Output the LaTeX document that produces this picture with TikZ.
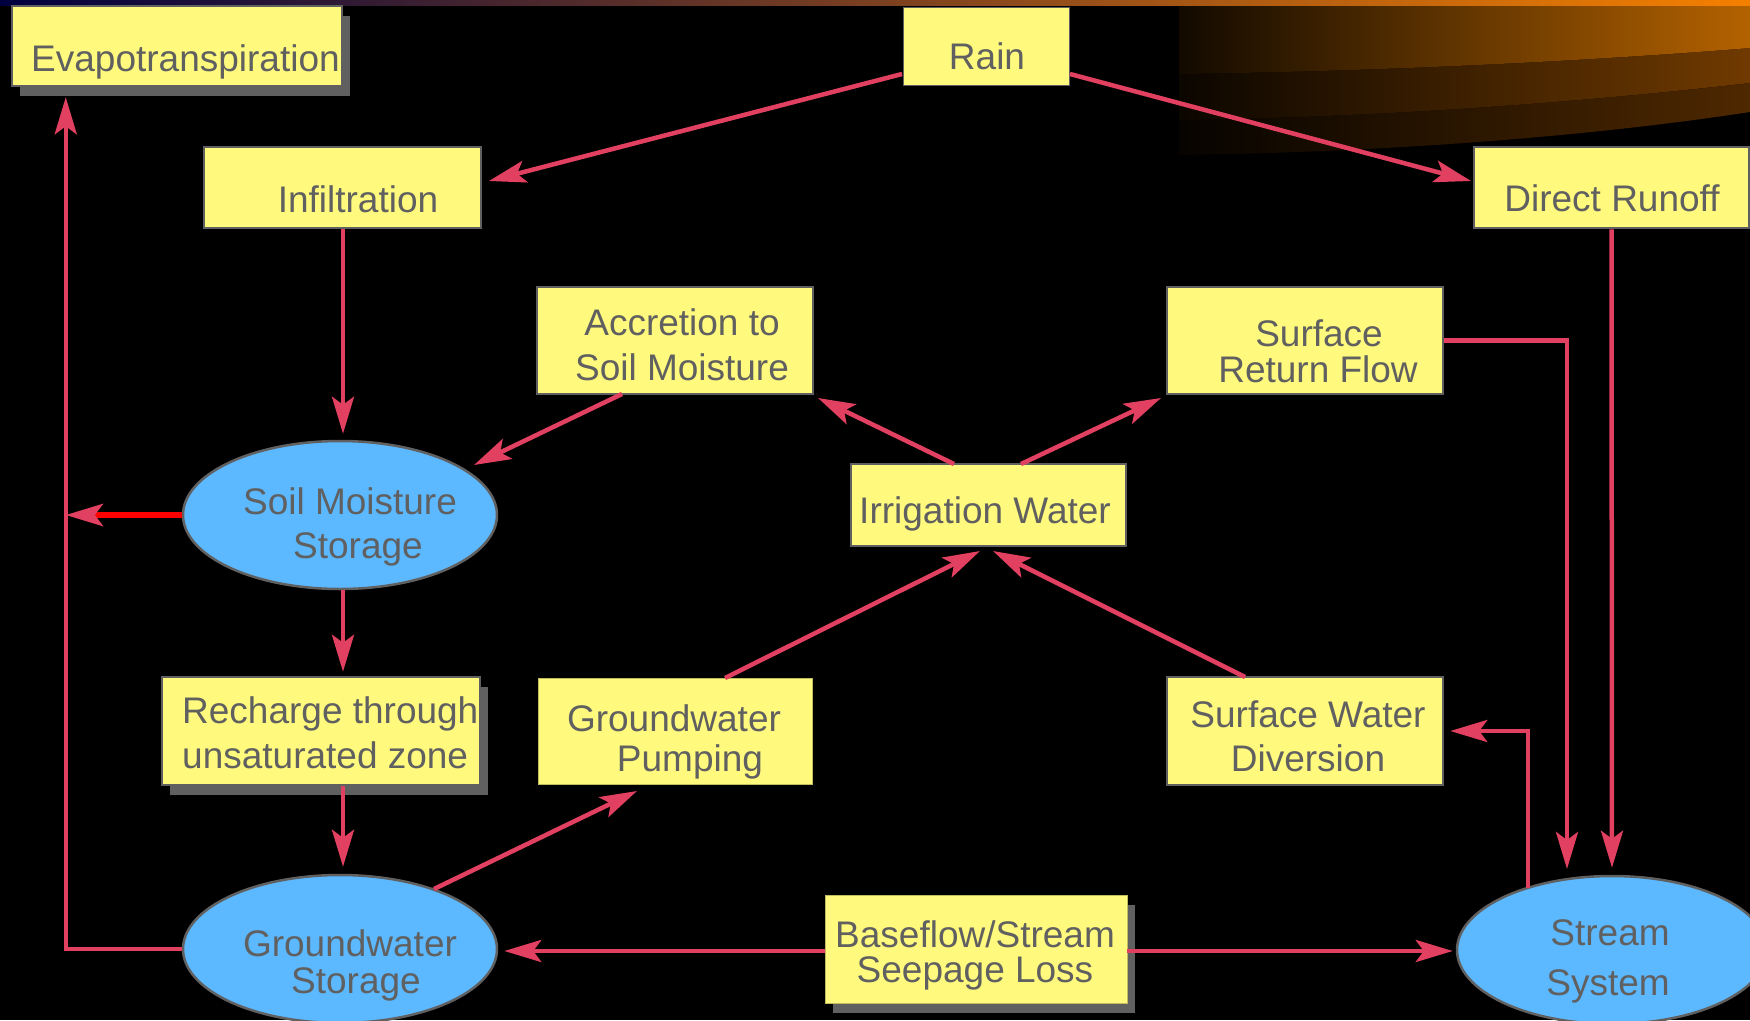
\documentclass[tikz,border=0pt]{standalone}
\usepackage{fontspec}
\setmainfont{Liberation Sans}
\usetikzlibrary{arrows.meta,shapes.geometric,calc,shadows}
\definecolor{boxyellow}{RGB}{255,250,125}
\definecolor{ellblue}{RGB}{92,184,255}
\definecolor{txtgray}{RGB}{96,96,96}
\definecolor{conpink}{RGB}{226,64,96}
\definecolor{stripL}{RGB}{0,0,64}
\definecolor{stripM}{RGB}{90,0,72}
\definecolor{stripR}{RGB}{245,128,0}
\definecolor{swooshA}{RGB}{180,98,0}
\definecolor{swooshB}{RGB}{112,58,0}
\definecolor{swooshC}{RGB}{78,40,0}
\begin{document}
\begin{tikzpicture}[x=1pt,y=-1pt,
  box/.style={rectangle, fill=boxyellow, draw=txtgray, line width=2.5pt, inner sep=0pt},
  flatbox/.style={rectangle, fill=boxyellow, draw=boxyellow!75!black, line width=0.8pt, inner sep=0pt},
  shadowed/.style={general shadow={fill=txtgray, shadow xshift=8pt, shadow yshift=-10pt}},
  store/.style={ellipse, fill=ellblue, draw=txtgray, line width=2.5pt, inner sep=0pt, minimum height=148pt},
  lbl/.style={text=txtgray, font=\fontsize{37}{44}\selectfont, inner sep=0pt, anchor=base},
  lblw/.style={lbl, anchor=base west},
  tip/.style={-{Stealth[length=37pt,width=22pt,inset=8pt]}},
  conn/.style={draw=conpink, line width=4.5pt, tip},
]
\useasboundingbox (0,0) rectangle (1750,1020);
\clip (0,0) rectangle (1750,1020);
\fill[black] (0,0) rectangle (1750,1020);
% swoosh
\fill[left color=swooshC!8!black, right color=swooshC] (1179,0) -- (1750,0) -- (1750,112) .. controls (1600,135) and (1400,152) .. (1179,155) -- cycle;
\fill[left color=swooshB!10!black, right color=swooshB] (1179,0) -- (1750,0) -- (1750,83) .. controls (1600,100) and (1400,117) .. (1179,120) -- cycle;
\fill[left color=swooshA!10!black, right color=swooshA] (1179,0) -- (1750,0) -- (1750,48) .. controls (1600,60) and (1400,71) .. (1179,74) -- cycle;
\fill[left color=stripL, middle color=stripM, right color=stripR] (0,0) rectangle (1750,5);

% boxes
\node[box, shadowed, minimum width=330pt, minimum height=80pt] (evap) at (177,46) {};
\node[box, line width=1pt, minimum width=166pt, minimum height=78pt] (rain) at (986,46) {};
\node[box, minimum width=277pt, minimum height=81pt] (infil) at (342.5,187.5) {};
\node[box, minimum width=275pt, minimum height=81pt] (runoff) at (1611.5,187.5) {};
\node[box, minimum width=276pt, minimum height=107pt] (accr) at (675,340.5) {};
\node[box, minimum width=276pt, minimum height=107pt] (sret) at (1305,340.5) {};
\node[store, minimum width=314pt] (soil) at (340,515) {};
\node[box, minimum width=275pt, minimum height=82pt] (irr) at (988.5,505) {};
\node[box, shadowed, minimum width=318pt, minimum height=108pt] (rech) at (321,731) {};
\node[flatbox, minimum width=274pt, minimum height=106pt] (pump) at (675,731) {};
\node[box, minimum width=276pt, minimum height=108pt] (sdiv) at (1305,731) {};
\node[store, minimum width=314pt] (gws) at (340,949) {};
\node[flatbox, shadowed, minimum width=302pt, minimum height=108pt] (base) at (976,949) {};
\node[store, minimum width=310pt] (stream) at (1612,950) {};

% labels
\node[lblw] (evapT) at (31,71) {Evapotranspiration};
\node[lbl] (rainT) at (987,69) {Rain};
\node[lbl] (infilT) at (358,212) {Infiltration};
\node[lbl] (runoffT) at (1612,211) {Direct Runoff};
\node[lbl] (accrT1) at (682,335) {Accretion to};
\node[lbl] (accrT2) at (682,380) {Soil Moisture};
\node[lbl] (sretT1) at (1319,346) {Surface};
\node[lbl] (sretT2) at (1318,382) {Return Flow};
\node[lbl] (soilT1) at (350,514) {Soil Moisture};
\node[lbl] (soilT2) at (358,558) {Storage};
\node[lbl] (irrT) at (985,523) {Irrigation Water};
\node[lblw] (rechT1) at (182,723) {Recharge through};
\node[lblw] (rechT2) at (182,768) {unsaturated zone};
\node[lbl] (pumpT1) at (674,731) {Groundwater};
\node[lbl] (pumpT2) at (690,771) {Pumping};
\node[lbl] (sdivT1) at (1308,727) {Surface Water};
\node[lbl] (sdivT2) at (1308,771) {Diversion};
\node[lbl] (gwsT1) at (350,956) {Groundwater};
\node[lbl] (gwsT2) at (356,993) {Storage};
\node[lbl] (baseT1) at (975,947) {Baseflow/Stream};
\node[lbl] (baseT2) at (975,982) {Seepage Loss};
\node[lbl] (streamT1) at (1610,945) {Stream};
\node[lbl] (streamT2) at (1608,995) {System};

% connectors
\coordinate (evapin) at ($(evap.south west)+(55,10)$);
\coordinate (baseL) at ($(base.west)+(0,2)$);
\coordinate (baseR) at ($(base.east)+(0,2)$);
\draw[conn] ($(rain.center)+(-84,28)$) -- ($(infil.center)+(146.5,-6.5)$);
\draw[conn] ($(rain.center)+(84,28)$) -- ($(runoff.center)+(-140.5,-6.5)$);
\draw[conn] ($(infil.south)+(0.5,0)$) -- ($(soil.north)+(3,-6)$);
\draw[conn] ($(accr.center)+(-53,53.5)$) -- ($(soil.center)+(134,-50)$);
\draw[conn] ($(irr.center)+(-34.5,-41)$) -- ($(accr.center)+(143,57.5)$);
\draw[conn] ($(irr.center)+(32.5,-41)$) -- ($(sret.center)+(-144,57.5)$);
\draw[conn] (sret.east) -| ($(stream.center)+(-45,-81)$);
\draw[conn] (runoff.south) -- ($(stream.north)+(0,-7)$);
\draw[conn] ($(stream.center)+(-84,-62)$) |- ($(sdiv.east)+(6,0)$);
\draw[conn] ($(pump.center)+(50,-53)$) -- ($(irr.center)+(-8.5,46)$);
\draw[conn] ($(sdiv.center)+(-60,-54)$) -- ($(irr.center)+(4.5,46)$);
\draw[conn] ($(soil.south)+(3,0)$) -- ($(rech.north)+(22,-4)$);
\draw[conn] ($(rech.south)+(22,0)$) -- ($(gws.north)+(3,-7)$);
\draw[conn] ($(gws.center)+(94,-60)$) -- ($(pump.center)+(-38,60)$);
\draw[conn] (baseL) -- ($(baseL -| gws.east)+(6,0)$);
\draw[conn] (baseR) -- ($(baseR -| stream.west)+(-3,0)$);
\draw[conn] (gws.west) -| (evapin);
\draw[red, line width=6pt, -{Stealth[length=37pt,width=22pt,inset=8pt,color=conpink]}] (soil.west) -- (soil.west -| evapin);
\end{tikzpicture}
\end{document}
